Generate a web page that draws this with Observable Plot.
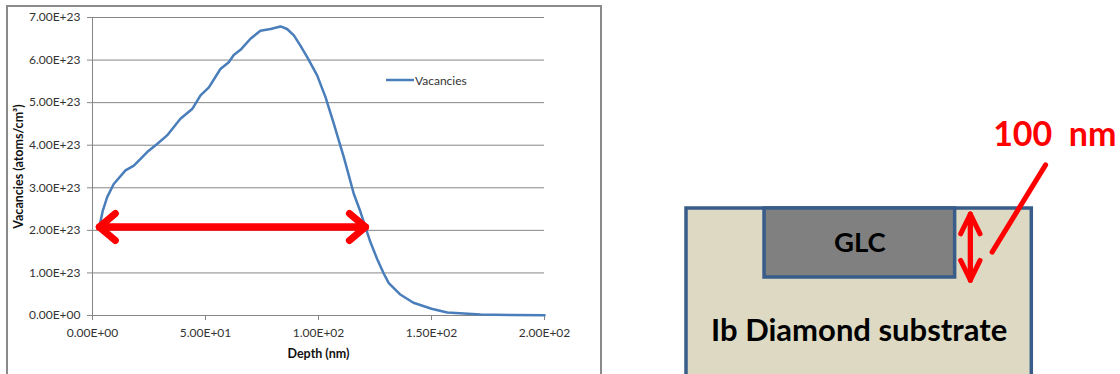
<!DOCTYPE html>
<html>
<head>
<meta charset="utf-8">
<script src="https://cdn.jsdelivr.net/npm/d3@7"></script>
<script src="https://cdn.jsdelivr.net/npm/@observablehq/plot@0.6"></script>
<style>
html, body { margin: 0; padding: 0; background: #fff; width: 1120px; height: 374px; overflow: hidden; }
#wrap { position: relative; width: 1120px; height: 374px; overflow: hidden; }
#frame { position: absolute; left: 6px; top: 5px; width: 596px; height: 420px; border: 2px solid #8a8a8a; box-sizing: border-box; }
#chart { position: absolute; left: 0; top: 0; }
#diagram { position: absolute; left: 605px; top: 0; }
#legend { position: absolute; left: 386px; top: 72px; height: 16px; display: flex; align-items: center; font-family: Lato, sans-serif; font-size: 12px; color: #333; }
#legend svg { display: block; margin-right: 1px; }
</style>
</head>
<body>
<div id="wrap">
  <div id="frame"></div>
  <div id="chart"></div>
  <div id="legend"></div>
  <div id="diagram"></div>
</div>
<script>
// ---- Chart data (depth in nm, vacancies in atoms/cm^3) ----
const depthNm = [3, 4.5, 6.5, 9.4, 14.6, 18.3, 24.2, 28.6, 33, 38.9, 44.1, 47.8, 51.5, 56.6, 60.3, 62.5, 65.5, 69.9, 74.3, 78.8, 83.2, 86.1, 89.1, 92, 95, 99.4, 103.1, 106.8, 109, 111.2, 113.4, 115.6, 118.6, 120.8, 123, 126, 128.9, 131.1, 136, 142, 150, 157, 171.7, 185, 200];
const vacancies = [2.07e23, 2.45e23, 2.78e23, 3.09e23, 3.41e23, 3.52e23, 3.84e23, 4.03e23, 4.23e23, 4.62e23, 4.85e23, 5.17e23, 5.36e23, 5.79e23, 5.95e23, 6.12e23, 6.24e23, 6.50e23, 6.69e23, 6.73e23, 6.79e23, 6.73e23, 6.58e23, 6.34e23, 6.07e23, 5.64e23, 5.13e23, 4.50e23, 4.11e23, 3.72e23, 3.29e23, 2.86e23, 2.43e23, 2.07e23, 1.72e23, 1.32e23, 0.98e23, 0.76e23, 0.50e23, 0.30e23, 0.16e23, 0.07e23, 0.023e23, 0.01e23, 0.003e23];
const xTicks = [0, 50, 100, 150, 200];
const yTicks = [0, 1e23, 2e23, 3e23, 4e23, 5e23, 6e23, 7e23];
const seriesName = "Vacancies";
const xLabel = "Depth (nm)";
const yLabel = "Vacancies (atoms/cm³)";
// Red span annotation on the chart (depth from/to, vacancy level)
const spanDepths = [3, 120.8];
const spanLevel = 2.08e23;

// ---- Diagram data (lateral position in % of substrate width, depth in nm) ----
const layerNames = ["Ib Diamond substrate", "GLC"];
const layerLeft = [0, 22.6];
const layerRight = [100, 77.8];
const layerTop = [0, 0];
const layerBottom = [260, 100];
const substrateLabelDepth = 177;
const thicknessAt = 82.2;
const thicknessDepths = [8, 104];
const leaderFrom = [88.5, 63.3];
const leaderTo = [104, -63.3];
const thicknessLabel = "100  nm";
const thicknessLabelPos = [88.8, -91.3];

function fmt(v) {
  const [m, e] = Number(v).toExponential(2).split("e");
  const sign = e[0] === "-" ? "-" : "+";
  const n = e.replace(/^[+-]/, "").padStart(2, "0");
  return m + "E" + sign + n;
}

const rows = depthNm.map((d, i) => ({depth: d, vac: vacancies[i]}));
const grey = "#868686";

const chart = Plot.plot({
  width: 605,
  height: 374,
  marginLeft: 92,
  marginRight: 61,
  marginTop: 17,
  marginBottom: 59,
  style: {fontFamily: "Lato, sans-serif", fontSize: "12px", color: "#333", background: "transparent", overflow: "visible"},
  x: {domain: [0, 200], label: null},
  y: {domain: [0, 7e23], label: null},
  marks: [
    Plot.gridY(yTicks, {stroke: grey, strokeOpacity: 1}),
    Plot.ruleX([0], {stroke: grey}),
    Plot.axisY(yTicks, {tickFormat: fmt, tickSize: 5, tickPadding: 7, stroke: grey, fill: "#333", label: null}),
    Plot.axisX(xTicks, {tickFormat: fmt, tickSize: 5, tickPadding: 8, stroke: grey, fill: "#333", label: null}),
    Plot.text([xLabel], {text: d => d, frameAnchor: "bottom", textAnchor: "middle", lineAnchor: "middle", dy: 38, fontWeight: "bold", fontSize: 12.5, fill: "#111"}),
    Plot.text([yLabel], {text: d => d, frameAnchor: "left", textAnchor: "middle", lineAnchor: "middle", dx: -74, rotate: -90, fontWeight: "bold", fontSize: 12.5, fill: "#111"}),
    Plot.line(rows, {x: "depth", y: "vac", stroke: "#4a7ebb", strokeWidth: 2.5}),
    Plot.arrow([0, 1], {
      x1: i => spanDepths[1 - i], x2: i => spanDepths[i],
      y1: () => spanLevel, y2: () => spanLevel,
      stroke: "#ff0000", strokeWidth: 7, headAngle: 80, headLength: 4.5,
      strokeLinecap: "round", strokeLinejoin: "round"
    })
  ]
});
document.getElementById("chart").append(chart);

// Legend
document.getElementById("legend").innerHTML =
  '<svg width="28" height="16"><line x1="0" x2="28" y1="8" y2="8" stroke="#4a7ebb" stroke-width="2.5"/></svg><span>' + seriesName + '</span>';

// ---- Diagram ----
const layers = layerNames.map((n, i) => ({name: n, left: layerLeft[i], right: layerRight[i], top: layerTop[i], bottom: layerBottom[i]}));

const diagram = Plot.plot({
  width: 515,
  height: 374,
  margin: 0,
  style: {fontFamily: "Lato, sans-serif", background: "transparent"},
  x: {domain: [0, 100], range: [81, 426.3], axis: null},
  y: {domain: [0, 100], range: [208, 277], axis: null},
  marks: [
    Plot.rect(layers, {
      x1: "left", x2: "right", y1: "top", y2: "bottom",
      fill: d => d.name === "GLC" ? "#808080" : "#ddd9c3",
      stroke: "#385d8a", strokeWidth: 3.5
    }),
    Plot.text(layers, {
      x: d => (d.left + d.right) / 2,
      y: d => d.name === "GLC" ? (d.top + d.bottom) / 2 : substrateLabelDepth,
      text: "name",
      fontWeight: "bold",
      fontSize: d => d.name === "GLC" ? 27.5 : 31,
      fill: "#000",
      fontFamily: "Lato"
    }),
    Plot.arrow([0, 1], {
      x1: () => thicknessAt, x2: () => thicknessAt,
      y1: i => thicknessDepths[1 - i], y2: i => thicknessDepths[i],
      stroke: "#ff0000", strokeWidth: 5, headAngle: 52, headLength: 7.6,
      strokeLinecap: "round", strokeLinejoin: "round"
    }),
    Plot.link([0], {
      x1: () => leaderFrom[0], y1: () => leaderFrom[1],
      x2: () => leaderTo[0], y2: () => leaderTo[1],
      stroke: "#ff0000", strokeWidth: 5, strokeLinecap: "round"
    }),
    Plot.text([thicknessLabel], {
      text: d => d,
      x: () => thicknessLabelPos[0], y: () => thicknessLabelPos[1],
      textAnchor: "start", lineAnchor: "bottom",
      fontSize: 34, fontWeight: "bold", fill: "#ff0000", fontFamily: "Lato"
    })
  ]
});
document.getElementById("diagram").append(diagram);
</script>
</body>
</html>
